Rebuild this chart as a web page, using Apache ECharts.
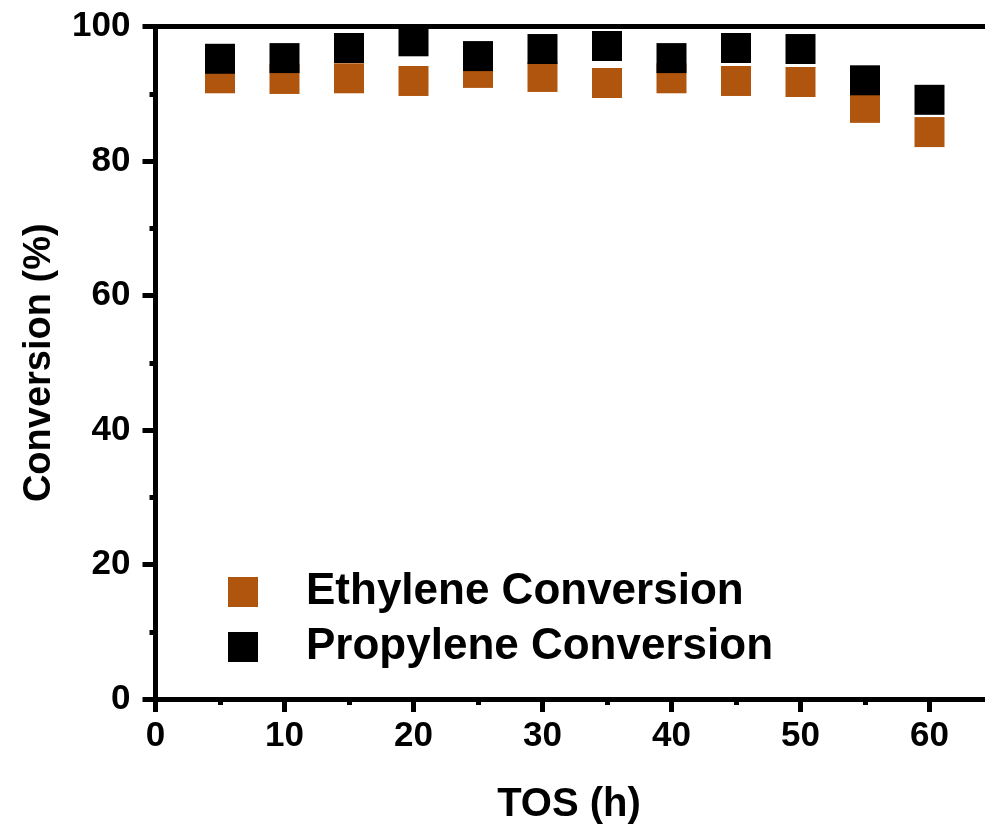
<!DOCTYPE html>
<html>
<head>
<meta charset="utf-8">
<script src="https://cdn.jsdelivr.net/npm/echarts@6/dist/echarts.min.js"></script>
<style>html,body{margin:0;padding:0;background:#fff}#c{width:985px;height:830px}</style>
</head>
<body>
<div id="c"></div>
<script>
const tos = [5, 10, 15, 20, 25, 30, 35, 40, 45, 50, 55, 60];
const ethylene = [92.3, 92.2, 92.3, 91.9, 93.1, 92.5, 91.6, 92.3, 91.9, 91.75, 87.9, 84.3];
const propylene = [95.2, 95.3, 96.8, 97.8, 95.6, 96.65, 97.1, 95.3, 96.8, 96.65, 92.0, 89.1];
const seriesNames = ['Ethylene Conversion', 'Propylene Conversion'];
const yTicks = [0, 20, 40, 60, 80, 100];

const FONT = "'Liberation Sans', Arial, sans-serif";
const chart = echarts.init(document.getElementById('c'), null, {renderer: 'canvas'});
const pairs = a => tos.map((t, i) => [t, a[i]]);

chart.setOption({
  animation: false,
  backgroundColor: '#fff',
  grid: {left: 155.5, top: 26.5, width: 903, height: 672.5, containLabel: false, outerBoundsMode: 'none'},
  legend: {
    orient: 'vertical', left: 228, top: 570, itemWidth: 30, itemHeight: 30, itemGap: 11, padding: 0,
    icon: 'rect',
    data: seriesNames,
    textStyle: {fontFamily: FONT, fontWeight: 'bold', fontSize: 44, color: '#000', padding: [0, 0, 0, 43]}
  },
  xAxis: [{
    type: 'value', min: 0, max: 70, interval: 10, position: 'bottom',
    name: 'TOS (h)', nameLocation: 'middle', nameGap: 86,
    nameTextStyle: {fontFamily: FONT, fontWeight: 'bold', fontSize: 40, color: '#000', padding: [0, 76, 0, 0]},
    axisLine: {show: true, onZero: false, lineStyle: {color: '#000', width: 5}},
    axisTick: {show: true, length: 13, lineStyle: {color: '#000', width: 5}},
    minorTick: {show: true, splitNumber: 2, length: 6, lineStyle: {color: '#000', width: 5}},
    axisLabel: {fontFamily: FONT, fontWeight: 'bold', fontSize: 35, color: '#000', margin: 20, showMaxLabel: false},
    splitLine: {show: false}
  }, {
    type: 'value', min: 0, max: 70, position: 'top', z: 10,
    axisLine: {show: true, onZero: false, lineStyle: {color: '#000', width: 5}},
    axisTick: {show: false}, axisLabel: {show: false}, splitLine: {show: false}
  }],
  yAxis: {
    type: 'value', min: yTicks[0], max: yTicks[yTicks.length - 1], interval: 20,
    name: 'Conversion (%)', nameLocation: 'middle', nameGap: 97,
    nameTextStyle: {fontFamily: FONT, fontWeight: 'bold', fontSize: 38, color: '#000'},
    axisLine: {show: true, onZero: false, lineStyle: {color: '#000', width: 5}},
    axisTick: {show: true, length: 13, lineStyle: {color: '#000', width: 5}},
    minorTick: {show: true, splitNumber: 2, length: 6, lineStyle: {color: '#000', width: 5}},
    axisLabel: {fontFamily: FONT, fontWeight: 'bold', fontSize: 35, color: '#000', margin: 25},
    splitLine: {show: false}
  },
  series: [{
    name: seriesNames[0], type: 'scatter', symbol: 'rect', symbolSize: 30, clip: false,
    itemStyle: {color: '#B0550E', opacity: 1}, data: pairs(ethylene)
  }, {
    name: seriesNames[1], type: 'scatter', symbol: 'rect', symbolSize: 30, clip: false,
    itemStyle: {color: '#000', opacity: 1}, data: pairs(propylene)
  }]
});
</script>
</body>
</html>
